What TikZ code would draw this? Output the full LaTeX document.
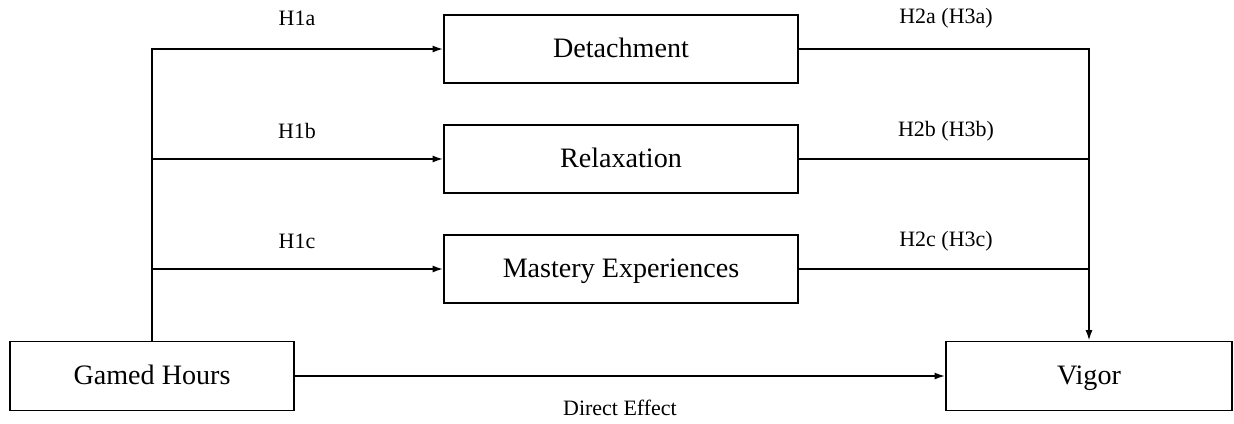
\documentclass[tikz,border=0pt]{standalone}
\usepackage{fontspec}
\setmainfont{Liberation Serif}
\usetikzlibrary{arrows.meta}

\tikzset{
  box/.style={draw, line width=1pt, inner sep=0pt, minimum width=7.08cm, minimum height=1.36cm,
    text height=12pt, text depth=2pt, font=\fontsize{16}{19}\selectfont},
  hyp/.style={font=\fontsize{12.5}{15}\selectfont, inner sep=0pt},
  path/.style={line width=1pt, -{Latex[length=6pt,width=4pt]}},
  link/.style={line width=1pt}
}

\begin{document}
\begin{tikzpicture}[x=0.02cm, y=-0.02cm]

          \useasboundingbox (0,0) rectangle (1234,423);

          % mediators
          \node[box] (det) at (621,49) {Detachment};
          \node[box] (rel) at (621,159) {Relaxation};
          \node[box] (mas) at (621,269) {Mastery Experiences};

          % predictor and outcome
          \node[box, minimum width=5.68cm, minimum height=1.38cm] (gam) at (152,376) {Gamed Hours};
          \node[box, minimum width=5.72cm, minimum height=1.38cm] (vig) at (1089,376) {Vigor};

          \draw[path] (gam.north) |- (det.west);
          \foreach \m in {rel,mas}{
            \draw[path] (gam.north |- \m.west) -- (\m.west);
          }

          \draw[path] (det.east) -| (vig.north);
          \foreach \m in {rel,mas}{
            \draw[link] (\m.east) -- (\m.east -| vig.north);
          }

          \draw[path] (gam.east) -- (vig.west);

          % hypothesis labels
          \node[hyp] (h1a) at (297,18) {H1a};
          \node[hyp] (h1b) at (297,131) {H1b};
          \node[hyp] (h1c) at (297,241) {H1c};
          \node[hyp] (h2a) at (946,18) {H2a (H3a)};
          \node[hyp] (h2b) at (946,131) {H2b (H3b)};
          \node[hyp] (h2c) at (946,241) {H2c (H3c)};
          \node[hyp] (dir) at (620,408) {Direct Effect};
        \end{tikzpicture}
\end{document}
